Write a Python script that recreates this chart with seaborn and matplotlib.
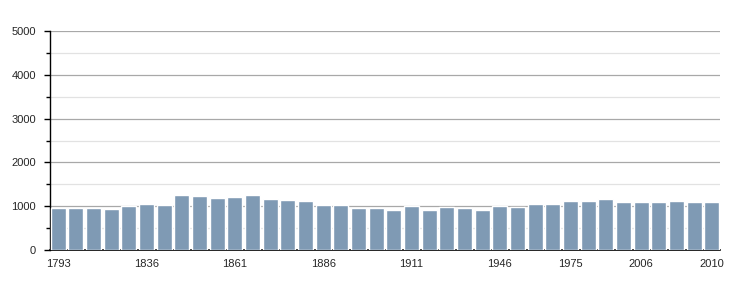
import matplotlib
matplotlib.use("Agg")
import matplotlib.pyplot as plt
import seaborn as sns
import pandas as pd
from matplotlib.ticker import MultipleLocator

years = [1793, 1800, 1806, 1821, 1831, 1836, 1841, 1846, 1851, 1856,
         1861, 1866, 1872, 1876, 1881, 1886, 1891, 1896, 1901, 1906,
         1911, 1921, 1926, 1931, 1936, 1946, 1954, 1962, 1968, 1975,
         1982, 1990, 1999, 2006, 2007, 2008, 2009, 2010]
population = [960, 960, 960, 940, 1008, 1053, 1031, 1260, 1237, 1191,
              1214, 1260, 1168, 1145, 1122, 1031, 1031, 962, 962, 916,
              1008, 916, 985, 962, 916, 1008, 985, 1053, 1053, 1122,
              1122, 1168, 1099, 1099, 1099, 1122, 1099, 1099]
shown_labels = ["1793", "1836", "1861", "1886", "1911", "1946", "1975", "2006", "2010"]

df = pd.DataFrame({"year": [str(y) for y in years], "pop": population})

sns.set_style("white")
plt.rcParams['font.family'] = ['Liberation Sans', 'DejaVu Sans']

fig = plt.figure(figsize=(7.5, 3.0), dpi=100)
ax = fig.add_axes([50/750, 50/300, 670/750, 219/300])

sns.barplot(data=df, x="year", y="pop", order=df["year"], color="#7f9ab4",
            saturation=1, width=0.85, ax=ax, zorder=3)

ax.set_ylim(0, 5000)
ax.set_xlim(-0.46, len(years) - 0.54)
ax.yaxis.set_major_locator(MultipleLocator(1000))
ax.yaxis.set_minor_locator(MultipleLocator(500))
ax.grid(axis="y", which="major", color="#a8a8a8", linewidth=0.9, zorder=0)
ax.grid(axis="y", which="minor", color="#e2e2e2", linewidth=0.9, zorder=0)
ax.set_axisbelow(True)

pos = [i for i, y in enumerate(years) if str(y) in shown_labels]
ax.set_xticks(pos)
ax.set_xticklabels([str(years[i]) for i in pos])

for s in ["top", "right"]:
    ax.spines[s].set_visible(False)
ax.spines["left"].set_color("black")
ax.spines["bottom"].set_color("black")
ax.spines["left"].set_linewidth(1.0)
ax.spines["bottom"].set_linewidth(1.2)

ax.tick_params(axis="y", which="major", left=True, length=4, width=1, color="black",
               labelsize=8, pad=6)
ax.tick_params(axis="y", which="minor", left=True, length=3, width=1, color="black")
ax.tick_params(axis="x", bottom=False, labelsize=8, pad=3)
ax.set_xlabel("")
ax.set_ylabel("")

fig.savefig("out.png", dpi=100)
